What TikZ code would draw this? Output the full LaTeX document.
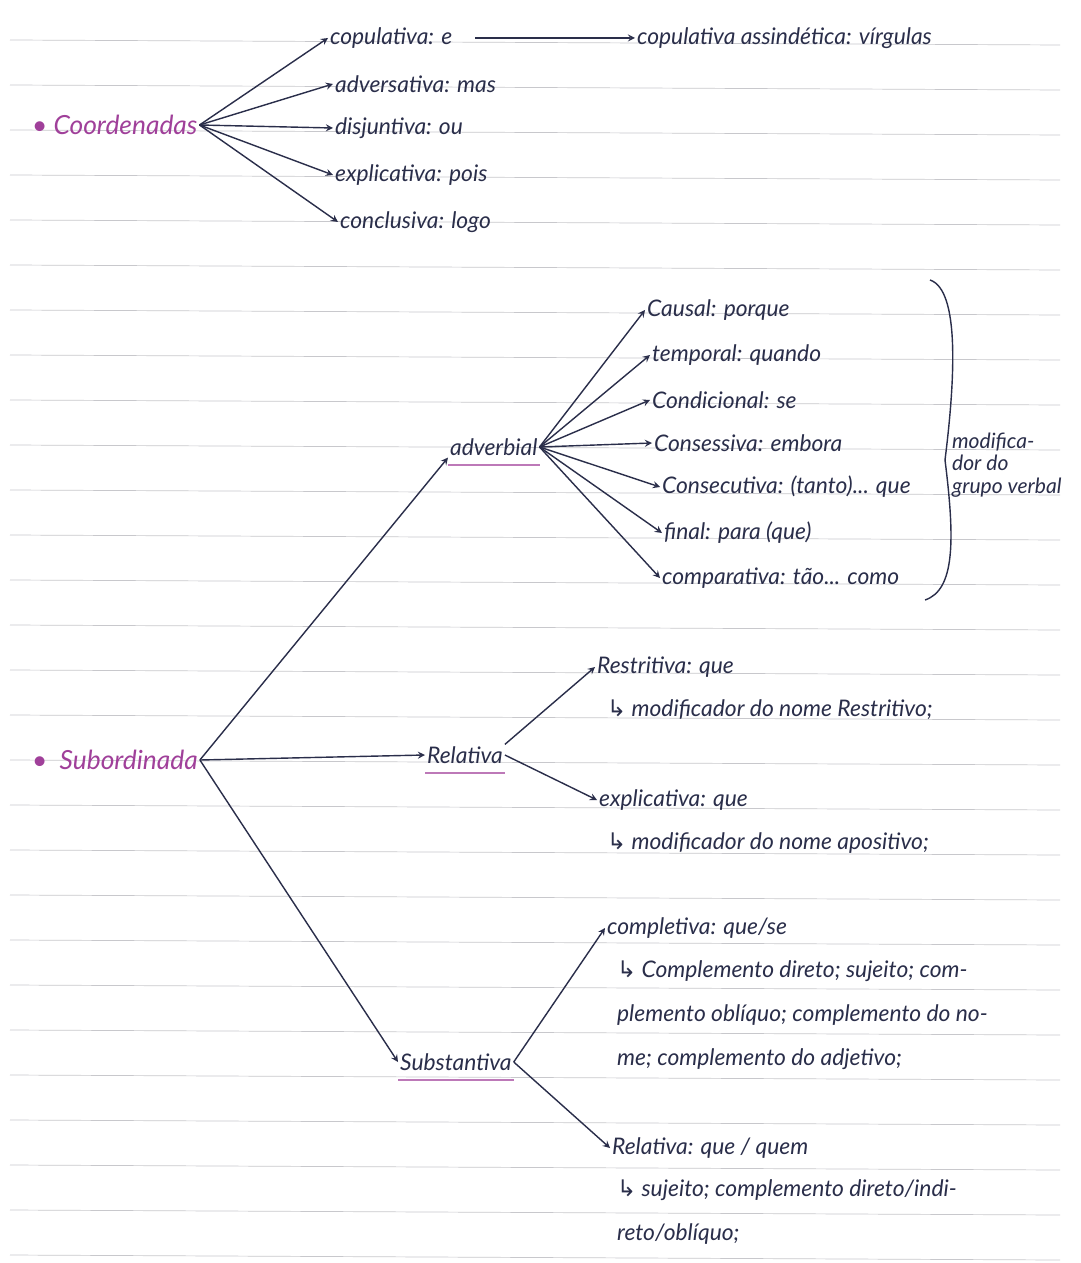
\documentclass[tikz,border=0pt]{standalone}
\usepackage{fontspec}
\setmainfont{Lato}
\newfontfamily\symf{DejaVu Sans}
\definecolor{ink}{HTML}{2A2E4A}
\definecolor{purp}{HTML}{A0409A}
\definecolor{rule}{HTML}{C8C8CC}
\tikzset{
 t/.style={text=ink,font=\itshape\fontsize{13}{15}\selectfont,inner sep=1pt},
 tl/.style={t,align=left,font=\itshape\fontsize{13}{25}\selectfont},
 h/.style={text=purp,font=\itshape\fontsize{15}{17}\selectfont,inner sep=1pt},
 ar/.style={draw=ink,thick,-stealth},
 ul/.style={draw=purp!70,line width=1.2pt}
}
\newcommand{\hook}{{\symf ↳}}
\begin{document}
\begin{tikzpicture}[x=0.02cm,y=-0.02cm]
\useasboundingbox (0,0) rectangle (1080,1263);
\fill[white] (0,0) rectangle (1080,1263);
\foreach \k in {0,...,27} \draw[rule] (10,{40+45*\k}) -- (1060,{45+45*\k});
% Coordenadas
\node[h,anchor=west] (co) at (30,125) {• Coordenadas};
\node[t,anchor=west] (c1) at (328,38) {copulativa: e};
\node[t,anchor=west] (c1b) at (635,38) {copulativa assindética: vírgulas};
\node[t,anchor=west] (c2) at (333,84) {adversativa: mas};
\node[t,anchor=west] (c3) at (333,128) {disjuntiva: ou};
\node[t,anchor=west] (c4) at (333,175) {explicativa: pois};
\node[t,anchor=west] (c5) at (338,222) {conclusiva: logo};
\foreach \n in {c1,c2,c3,c4,c5} \draw[ar] (co.east) -- (\n.west);
\draw[ar] ([xshift=12pt]c1.east) -- (c1b.west);
% Subordinada
\node[h,anchor=west] (su) at (30,760) {•\ \ Subordinada};
\node[t,anchor=west] (adv) at (448,447) {adverbial};
\node[t,anchor=west] (rel) at (425,755) {Relativa};
\node[t,anchor=west] (sub) at (398,1062) {Substantiva};
\draw[ar] (su.east) -- (adv.south west);
\draw[ar] (su.east) -- (rel.west);
\draw[ar] (su.east) -- (sub.west);
\foreach \b in {adv,rel,sub} \draw[ul] ([yshift=-4pt]\b.south west) -- ([yshift=-4pt]\b.south east);
% adverbial
\node[t,anchor=west] (a1) at (645,310) {Causal: porque};
\node[t,anchor=west] (a2) at (650,355) {temporal: quando};
\node[t,anchor=west] (a3) at (650,400) {Condicional: se};
\node[t,anchor=west] (a4) at (652,443) {Consessiva: embora};
\node[t,anchor=west] (a5) at (660,487) {Consecutiva: (tanto)... que};
\node[t,anchor=west] (a6) at (662,533) {final: para (que)};
\node[t,anchor=west] (a7) at (660,578) {comparativa: tão... como};
\foreach \n in {a1,a2,a3,a4,a5,a6,a7} \draw[ar] (adv.east) -- (\n.west);
\draw[ink,thick] (930,280) .. controls (960,290) and (955,380) .. (945,460) .. controls (955,540) and (955,590) .. (925,600);
\node[t,align=left,anchor=west,font=\itshape\fontsize{12}{13}\selectfont] (mod) at (950,465) {modifica-\\dor do\\grupo verbal};
% relativa
\node[t,anchor=west] (r1) at (595,667) {Restritiva: que};
\node[t,anchor=west] (r1b) at (605,710) {\hook\ modificador do nome Restritivo;};
\node[t,anchor=west] (r2) at (597,800) {explicativa: que};
\node[t,anchor=west] (r2b) at (605,843) {\hook\ modificador do nome apositivo;};
\draw[ar] (rel.north east) -- (r1.west);
\draw[ar] (rel.east) -- (r2.west);
% substantiva
\node[t,anchor=west] (s1) at (605,928) {completiva: que/se};
\node[tl,anchor=west] (s1b) at (615,1015) {\hook\ Complemento direto; sujeito; com-\\plemento oblíquo; complemento do no-\\me; complemento do adjetivo;};
\node[t,anchor=west] (s2) at (610,1148) {Relativa: que / quem};
\node[tl,anchor=west] (s2b) at (615,1212) {\hook\ sujeito; complemento direto/indi-\\reto/oblíquo;};
\draw[ar] (sub.east) -- (s1.west);
\draw[ar] (sub.east) -- (s2.west);
\end{tikzpicture}
\end{document}
